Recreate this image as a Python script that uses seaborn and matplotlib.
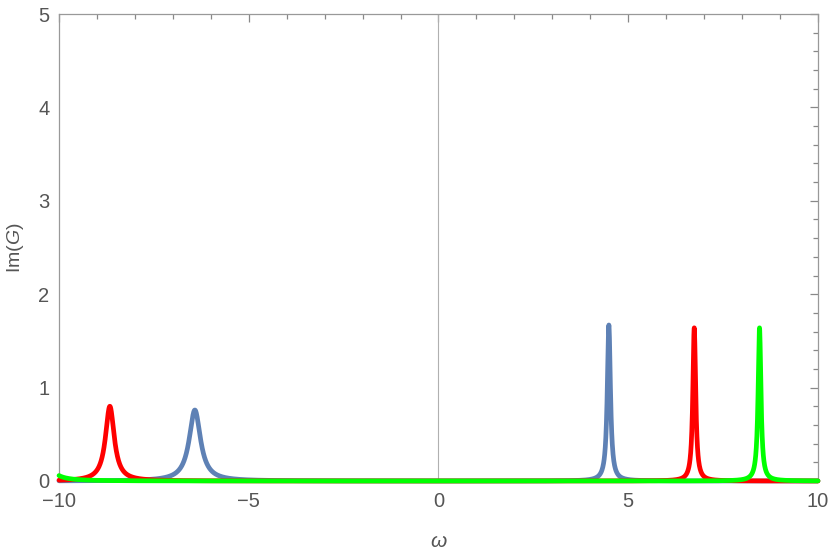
import numpy as np
import pandas as pd
import matplotlib.pyplot as plt
import seaborn as sns
from matplotlib.ticker import MultipleLocator

# peak parameters (centre, height, half width)
blue_centers = [-6.42, 4.49]
blue_heights = [0.76, 1.67]
blue_widths = [0.18, 0.05]

red_centers = [-8.66, 6.74]
red_heights = [0.80, 1.64]
red_widths = [0.14, 0.045]

green_centers = [-10.5, 8.46]
green_heights = [0.80, 1.64]
green_widths = [0.14, 0.045]

x_ticks = [-10, -5, 0, 5, 10]
y_ticks = [0, 1, 2, 3, 4, 5]

omega = np.linspace(-10, 10, 4001)


def spectrum(centers, heights, widths):
    y = np.zeros_like(omega)
    for c, h, g in zip(centers, heights, widths):
        y += h * g**2 / ((omega - c) ** 2 + g**2)
    return y


df = pd.DataFrame({
    "omega": omega,
    "blue": spectrum(blue_centers, blue_heights, blue_widths),
    "red": spectrum(red_centers, red_heights, red_widths),
    "green": spectrum(green_centers, green_heights, green_widths),
})

sns.set_style("white")
plt.rcParams["font.family"] = ["Liberation Sans", "DejaVu Sans"]
plt.rcParams["mathtext.fontset"] = "custom"
plt.rcParams["mathtext.it"] = "Liberation Sans:italic"

fig = plt.figure(figsize=(8.3, 5.56), dpi=100)
ax = fig.add_axes([0.0711, 0.1349, 0.9144, 0.8399])

ax.axvline(0, color="#b0b0b0", lw=0.8, zorder=1)

colors = {"blue": "#5e81b5", "red": "#ff0000", "green": "#00ff00"}
for name in ["blue", "red", "green"]:
    sns.lineplot(data=df, x="omega", y=name, color=colors[name], lw=3.4,
                 ax=ax, clip_on=False, zorder=3)

ax.set_xlim(-10, 10)
ax.set_ylim(0, 5)
ax.set_xticks(x_ticks)
ax.set_yticks(y_ticks)
ax.set_xticklabels(["\u221210", "\u22125", "0", "5", "10"])
ax.xaxis.set_minor_locator(MultipleLocator(1))
ax.yaxis.set_minor_locator(MultipleLocator(0.2))

for s in ax.spines.values():
    s.set_color("#999999")
    s.set_linewidth(0.9)

ax.tick_params(which="both", direction="in", top=True, right=True,
               color="#888888", labelcolor="#555555", labelsize=14.5, width=0.9)
ax.tick_params(which="major", length=6)
ax.tick_params(which="minor", length=3.5)
ax.tick_params(axis="x", pad=8)
ax.tick_params(axis="y", pad=7)

ax.set_xlabel(r"$\omega$", fontsize=15, color="#555555", labelpad=15)
ax.set_ylabel("Im($G$)", fontsize=14, color="#555555", labelpad=9)

fig.savefig("out.png", dpi=100)
